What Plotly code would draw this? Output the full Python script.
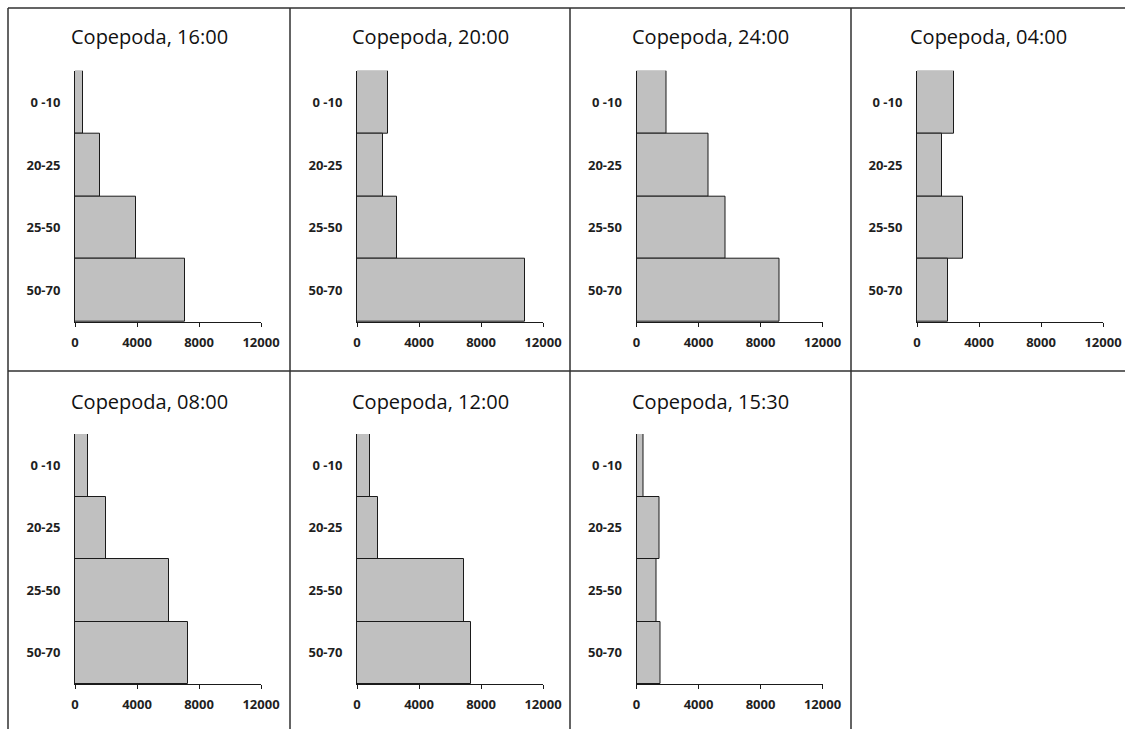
import plotly.graph_objects as go

# Depth strata (m) and copepod abundance per sampling time
depths = ["0 -10", "20-25", "25-50", "50-70"]
times = ["16:00", "20:00", "24:00", "04:00", "08:00", "12:00", "15:30"]
abund_1600 = [530, 1630, 3950, 7100]
abund_2000 = [1970, 1650, 2570, 10870]
abund_2400 = [1940, 4660, 5760, 9210]
abund_0400 = [2360, 1590, 2960, 1970]
abund_0800 = [860, 2030, 6050, 7280]
abund_1200 = [840, 1380, 6930, 7340]
abund_1530 = [470, 1470, 1310, 1530]
series = [abund_1600, abund_2000, abund_2400, abund_0400,
          abund_0800, abund_1200, abund_1530]
x_ticks = [0, 4000, 8000, 12000]

W, H = 1125, 729
TXT = "#1f1f1f"
TITLE = "#111111"

fig = go.Figure()

def px_x(v):
    return v / W

def px_y(v):
    return 1 - v / H

# plot-area placement per column / row (pixels)
col_x0 = [75, 357, 636.5, 917]
plot_w = 186
row_y = [(70.7, 322), (434, 684)]
cell_cx = [149, 430, 710.5, 988]
title_y = [37, 401]

layout_axes = {}
annotations = []
for k, (t, vals) in enumerate(zip(times, series)):
    r, c = divmod(k, 4)
    n = "" if k == 0 else str(k + 1)
    fig.add_trace(go.Bar(
        x=vals, y=depths, orientation="h",
        marker=dict(color="#c0c0c0", line=dict(color="#1a1a1a", width=1)),
        xaxis="x" + n, yaxis="y" + n, showlegend=False,
        hoverinfo="x+y",
    ))
    x0 = col_x0[c]
    yt, yb = row_y[r]
    layout_axes["xaxis" + n] = dict(
        domain=[px_x(x0), px_x(x0 + plot_w)], anchor="y" + n,
        range=[0, 12000], tickvals=x_ticks, ticktext=[str(v) for v in x_ticks],
        showline=True, linecolor="#1a1a1a", linewidth=1,
        ticks="outside", ticklen=4, tickcolor="#1a1a1a",
        showgrid=False, zeroline=False, fixedrange=True, automargin=False,
        tickfont=dict(family="Open Sans", size=13, color=TXT, weight="bold"),
        ticklabelstandoff=4,
    )
    layout_axes["yaxis" + n] = dict(
        domain=[px_y(yb), px_y(yt)], anchor="x" + n,
        categoryorder="array", categoryarray=depths[::-1],
        type="category",
        showline=True, linecolor="#1a1a1a", linewidth=1,
        ticks="", showgrid=False, zeroline=False, fixedrange=True,
        automargin=False,
        tickfont=dict(family="Open Sans", size=13, color=TXT, weight="bold"),
        ticklabelstandoff=11,
    )
    annotations.append(dict(
        text="Copepoda, " + t, x=px_x(cell_cx[c]), y=px_y(title_y[r]),
        xref="paper", yref="paper", xanchor="center", yanchor="middle",
        showarrow=False,
        font=dict(family="Open Sans", size=20, color=TITLE),
    ))

# cell frame lines
shapes = []
frame = dict(color="#303030", width=1.5)
for xv in [8, 290, 570, 851]:
    shapes.append(dict(type="line", xref="paper", yref="paper",
                       x0=px_x(xv), x1=px_x(xv), y0=px_y(8), y1=0, line=frame))
for yv in [8, 371]:
    shapes.append(dict(type="line", xref="paper", yref="paper",
                       x0=px_x(8), x1=1, y0=px_y(yv), y1=px_y(yv), line=frame))

fig.update_layout(
    width=W, height=H, autosize=False,
    margin=dict(l=0, r=0, t=0, b=0, autoexpand=False),
    paper_bgcolor="white", plot_bgcolor="white",
    bargap=0,
    annotations=annotations,
    shapes=shapes,
    **layout_axes,
)

fig.write_html("out.html", config={"displayModeBar": False})
